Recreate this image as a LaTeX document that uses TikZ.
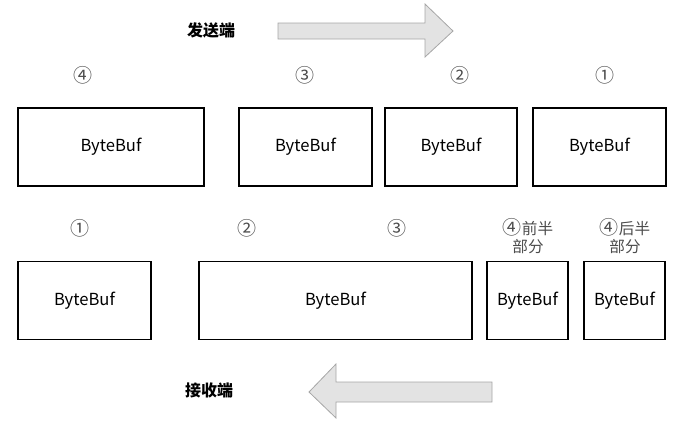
\documentclass[tikz,border=0pt]{standalone}
\usepackage{fontspec}
\setmainfont{Noto Sans CJK SC}
\usepackage{tikz}

\begin{document}
\begin{tikzpicture}[x=0.5pt,y=-0.5pt]
        \def\bufh{39pt}
        \def\topy{147}
        \def\boty{300.5}
        \def\circ#1{{\fontsize{9.5}{9}\selectfont#1}}

        \tikzset{
           buf/.style={draw=black, line width=0.8pt, minimum height=\bufh, inner sep=0pt,
              font=\fontsize{8.3}{10}\selectfont},
           order/.style={text=black!70, align=center, inner sep=0pt,
              font=\fontsize{7.8}{9.2}\selectfont},
           side/.style={inner sep=0pt, font=\fontsize{8}{10}\selectfont\bfseries},
           flow/.style={fill=black!11, draw=black!35, line width=0.4pt, line join=miter}
        }

        \useasboundingbox (0,0) rectangle (691,425);

        % Sender
        \node[side] (send) at (211,30) {发送端};
        \draw[flow] (278,23) -- (425,23) -- (425,4) -- (453,31) -- (425,57)
                    -- (425,39) -- (278,39) -- cycle;

        \node[order] (s4) at (83,75) {\circ{④}};
        \node[order] (s3) at (305,75) {\circ{③}};
        \node[order] (s2) at (460,75) {\circ{②}};
        \node[order] (s1) at (605,75) {\circ{①}};

        \node[buf, minimum width=93pt] (sbuf4) at (111,\topy) {ByteBuf};
        \node[buf, minimum width=66.5pt] (sbuf3) at (305.5,\topy) {ByteBuf};
        \node[buf, minimum width=66pt] (sbuf2) at (451,\topy) {ByteBuf};
        \node[buf, minimum width=66.5pt] (sbuf1) at (599.5,\topy) {ByteBuf};

        % Receiver
        \node[order] (r1) at (80,228) {\circ{①}};
        \node[order] (r2) at (247,228) {\circ{②}};
        \node[order] (r3) at (397,228) {\circ{③}};
        \node[order] (r4a) at (528,236) {\circ{④}前半\\部分};
        \node[order] (r4b) at (625,236) {\circ{④}后半\\部分};

        \node[buf, minimum width=66.5pt] (rbuf1) at (84.5,\boty) {ByteBuf};
        \node[buf, minimum width=136.5pt] (rbuf2) at (335.5,\boty) {ByteBuf};
        \node[buf, minimum width=40.5pt] (rbuf3) at (527.5,\boty) {ByteBuf};
        \node[buf, minimum width=40.5pt] (rbuf4) at (624.5,\boty) {ByteBuf};

        \node[side] (recv) at (209,390) {接收端};
        \draw[flow] (492,382) -- (336,382) -- (336,364) -- (309,392) -- (336,418)
                    -- (336,402) -- (492,402) -- cycle;
\end{tikzpicture}
\end{document}
